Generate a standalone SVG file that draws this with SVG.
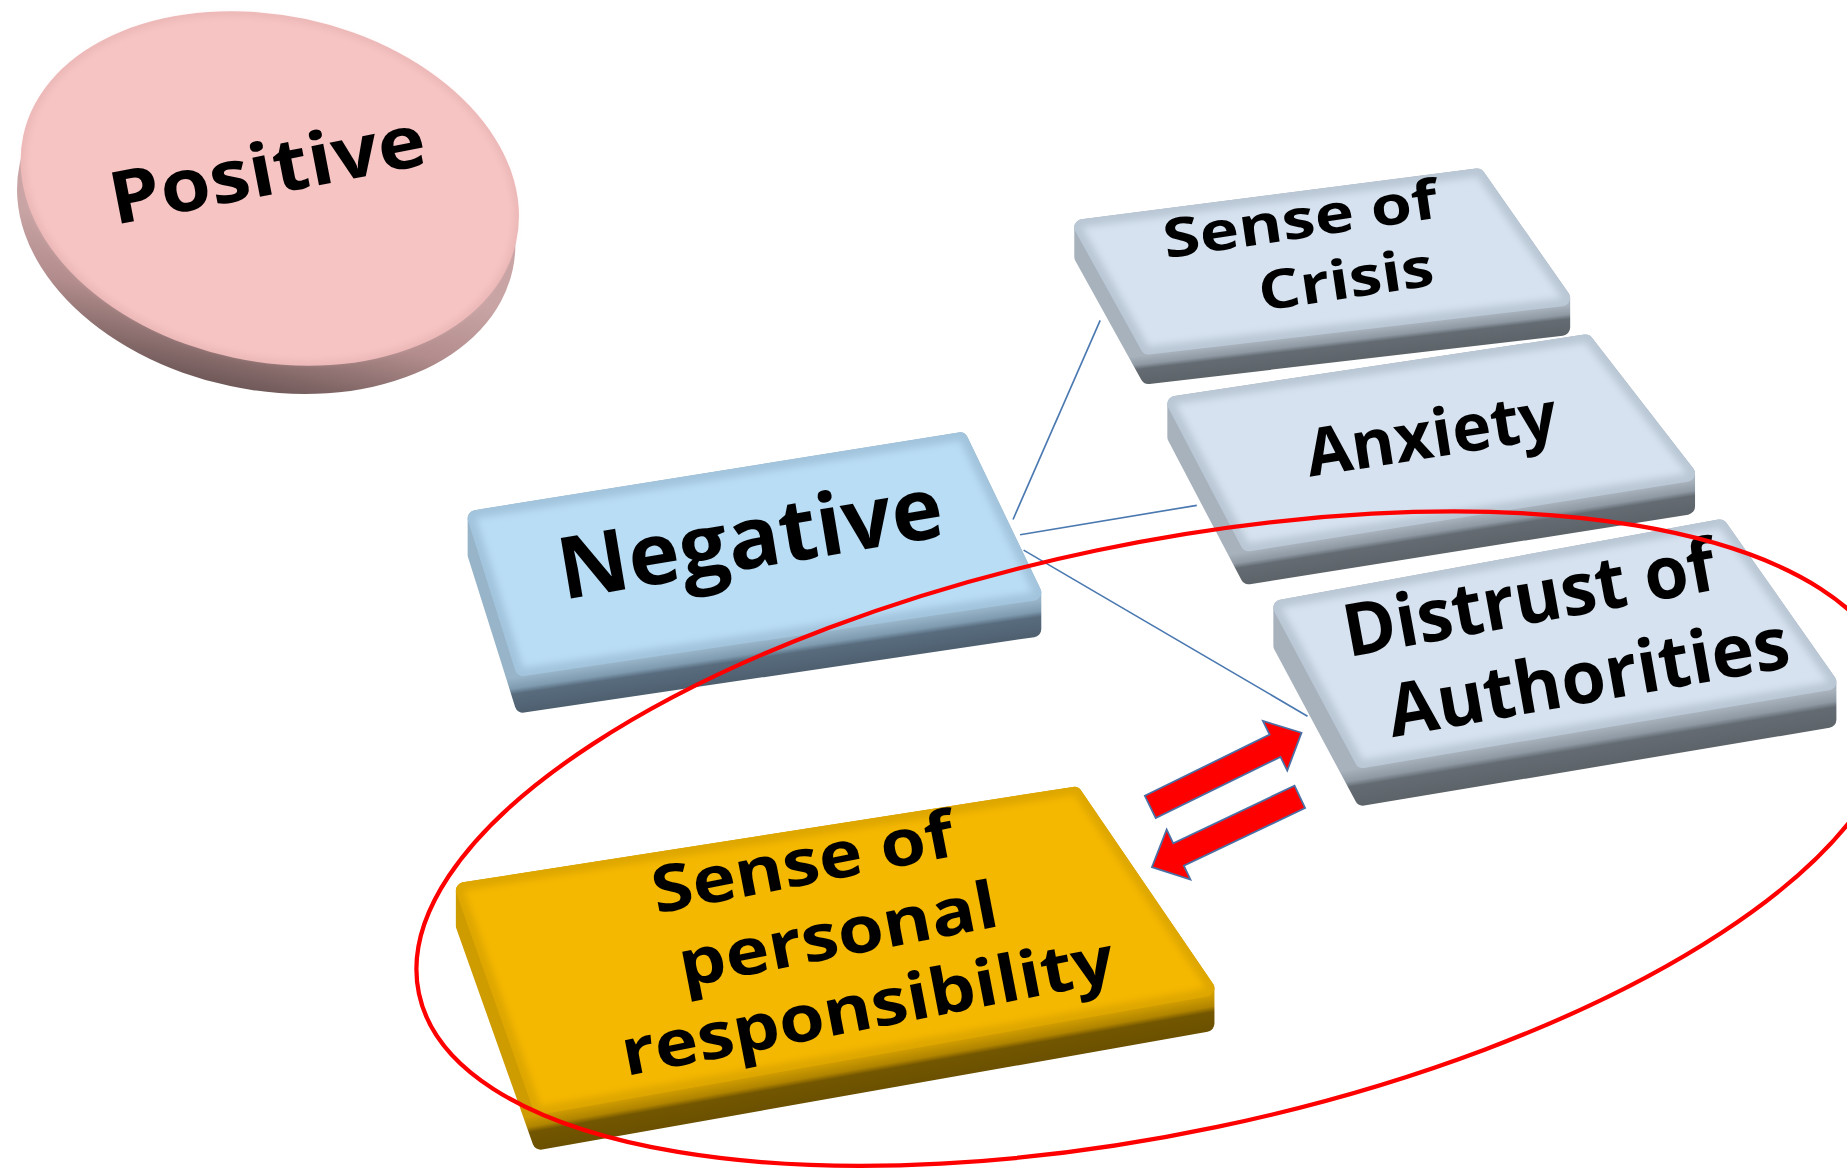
<svg xmlns="http://www.w3.org/2000/svg" width="1847" height="1170" viewBox="0 0 1847 1170">
<defs>
  <filter id="soft" x="-5%" y="-5%" width="110%" height="110%"><feGaussianBlur stdDeviation="3"/></filter>
  <linearGradient id="pinkSide" gradientUnits="userSpaceOnUse" x1="0" y1="220" x2="0" y2="335">
    <stop offset="0" stop-color="#c9a4a4"/>
    <stop offset="0.45" stop-color="#b38d8d"/>
    <stop offset="1" stop-color="#6b5555"/>
  </linearGradient>
  <linearGradient id="sideNeg" gradientUnits="userSpaceOnUse" x1="661.5" y1="542" x2="666" y2="572.6">
    <stop offset="0" stop-color="#98b4c9"/>
    <stop offset="0.3" stop-color="#7f9bb0"/>
    <stop offset="0.45" stop-color="#586c7e"/>
    <stop offset="1" stop-color="#4e5f6f"/>
  </linearGradient>
  <linearGradient id="sideCrisis" gradientUnits="userSpaceOnUse" x1="1151.3" y1="280.5" x2="1154.2" y2="305.3">
    <stop offset="0" stop-color="#a7b2bd"/>
    <stop offset="0.3" stop-color="#8e99a4"/>
    <stop offset="0.45" stop-color="#646b72"/>
    <stop offset="1" stop-color="#5c6369"/>
  </linearGradient>
  <linearGradient id="sideAnx" gradientUnits="userSpaceOnUse" x1="1247.1" y1="438.4" x2="1251.5" y2="466.1">
    <stop offset="0" stop-color="#a7b2bd"/>
    <stop offset="0.3" stop-color="#8e99a4"/>
    <stop offset="0.45" stop-color="#646b72"/>
    <stop offset="1" stop-color="#5c6369"/>
  </linearGradient>
  <linearGradient id="sideDis" gradientUnits="userSpaceOnUse" x1="1355.7" y1="618.9" x2="1360.9" y2="650.5">
    <stop offset="0" stop-color="#a7b2bd"/>
    <stop offset="0.3" stop-color="#8e99a4"/>
    <stop offset="0.45" stop-color="#646b72"/>
    <stop offset="1" stop-color="#5c6369"/>
  </linearGradient>
  <linearGradient id="sideGold" gradientUnits="userSpaceOnUse" x1="742.7" y1="895.9" x2="747.9" y2="925.4">
    <stop offset="0" stop-color="#cf9c00"/>
    <stop offset="0.3" stop-color="#b08400"/>
    <stop offset="0.45" stop-color="#735600"/>
    <stop offset="1" stop-color="#6a5000"/>
  </linearGradient>
</defs>
<style>
  .lbl { font-family: "Open Sans", "Noto Sans", "Liberation Sans", sans-serif; font-weight: 700; fill: #000; text-anchor: middle; }
  .conn line { stroke: #4a78b0; stroke-width: 1.4; fill: none; }
  .b { stroke-width: 14; stroke-linejoin: round; }
  .blue .rim { fill: #a2c4dc; stroke: #a2c4dc; }
  .blue .face { fill: #b9ddf5; }
  .grey .rim { fill: #bac7d5; stroke: #bac7d5; }
  .grey .face { fill: #d6e2ef; }
  .gold .rim { fill: #dea700; stroke: #dea700; }
  .gold .face { fill: #f5b800; }
  .arrow { fill: #ff0000; stroke: #4a6fa5; stroke-width: 1.5; stroke-linejoin: miter; }
</style>
<rect width="1847" height="1170" fill="#ffffff"/>
<g transform="scale(1.17793)">
  <g id="positive">
    <ellipse cx="226" cy="184" rx="214" ry="147" transform="rotate(12 226 184)" fill="url(#pinkSide)"/>
    <ellipse cx="229" cy="160" rx="214" ry="147" transform="rotate(12 229 160)" fill="#ebb7b7"/>
    <ellipse cx="229" cy="160" rx="210" ry="143" transform="rotate(12 229 160)" fill="#f7c4c4" filter="url(#soft)"/>
    <text class="lbl" font-size="62" textLength="272" lengthAdjust="spacingAndGlyphs" transform="translate(231 165) rotate(-11)">Positive</text>
  </g>

  <g id="connectors" class="conn">
    <line x1="860" y1="441" x2="934" y2="272"/>
    <line x1="866" y1="454" x2="1016" y2="429"/>
    <line x1="869" y1="467" x2="1110" y2="608"/>
  </g>

  <g id="negative" class="blue">
    <polygon class="b" fill="url(#sideNeg)" stroke="url(#sideNeg)" points="404,440 815,374 877,503 877,534 444,598 404,471"/>
    <polygon class="b rim" points="404,440 815,374 877,503 444,567"/>
    <polygon class="face" points="404,440 815,374 877,503 444,567" filter="url(#soft)"/>
    <text class="lbl" font-size="73" textLength="330" lengthAdjust="spacingAndGlyphs" transform="translate(641 482) rotate(-9.5)">Negative</text>
  </g>

  <g id="sense-of-crisis" class="grey">
    <polygon class="b" fill="url(#sideCrisis)" stroke="url(#sideCrisis)" points="919,193 1254,150 1326,253 1326,278 975,319 919,218"/>
    <polygon class="b rim" points="919,193 1254,150 1326,253 975,294"/>
    <polygon class="face" points="919,193 1254,150 1326,253 975,294" filter="url(#soft)"/>
    <text class="lbl" font-size="46" textLength="235" lengthAdjust="spacingAndGlyphs" transform="translate(1106 202) rotate(-8.5)">Sense of</text>
    <text class="lbl" font-size="46" textLength="150" lengthAdjust="spacingAndGlyphs" transform="translate(1145 253) rotate(-8.5)">Crisis</text>
  </g>

  <g id="anxiety" class="grey">
    <polygon class="b" fill="url(#sideAnx)" stroke="url(#sideAnx)" points="998,343 1346,291 1432,402 1432,430 1060,489 998,371"/>
    <polygon class="b rim" points="998,343 1346,291 1432,402 1060,461"/>
    <polygon class="face" points="998,343 1346,291 1432,402 1060,461" filter="url(#soft)"/>
    <text class="lbl" font-size="56" textLength="215" lengthAdjust="spacingAndGlyphs" transform="translate(1218 388) rotate(-9)">Anxiety</text>
  </g>

  <g id="distrust" class="grey">
    <polygon class="b" fill="url(#sideDis)" stroke="url(#sideDis)" points="1088,516 1460,448 1552,579 1552,611 1157,677 1088,548"/>
    <polygon class="b rim" points="1088,516 1460,448 1552,579 1157,645"/>
    <polygon class="face" points="1088,516 1460,448 1552,579 1157,645" filter="url(#soft)"/>
    <text class="lbl" font-size="62" textLength="320" lengthAdjust="spacingAndGlyphs" transform="translate(1302 529) rotate(-10.4)">Distrust of</text>
    <text class="lbl" font-size="62" textLength="345" lengthAdjust="spacingAndGlyphs" transform="translate(1352 596) rotate(-10)">Authorities</text>
  </g>

  <g id="personal-responsibility" class="gold">
    <polygon class="b" fill="url(#sideGold)" stroke="url(#sideGold)" points="394,756 912,675 1024,839 1024,869 459,969 394,786"/>
    <polygon class="b rim" points="394,756 912,675 1024,839 459,939"/>
    <polygon class="face" points="394,756 912,675 1024,839 459,939" filter="url(#soft)"/>
    <text class="lbl" font-size="55" textLength="260" lengthAdjust="spacingAndGlyphs" transform="translate(685 751) rotate(-11)">Sense of</text>
    <text class="lbl" font-size="55" textLength="275" lengthAdjust="spacingAndGlyphs" transform="translate(715 812) rotate(-11)">personal</text>
    <text class="lbl" font-size="55" textLength="425" lengthAdjust="spacingAndGlyphs" transform="translate(740 873) rotate(-11)">responsibility</text>
  </g>

  <g id="arrows">
    <path class="arrow" d="M0,-10.5 L118,-10.5 L118,-23.5 L143,0 L118,23.5 L118,10.5 L0,10.5 Z" transform="translate(976.5 685) rotate(-26.1)"/>
    <path class="arrow" d="M0,-10.5 L114,-10.5 L114,-23.5 L139,0 L114,23.5 L114,10.5 L0,10.5 Z" transform="translate(1103.5 676.5) rotate(154.6)"/>
  </g>

  <g id="highlight">
    <ellipse cx="982" cy="712" rx="640" ry="250" transform="rotate(-11.85 982 712)" fill="none" stroke="#ff0000" stroke-width="3.6"/>
  </g>
</g>
</svg>
